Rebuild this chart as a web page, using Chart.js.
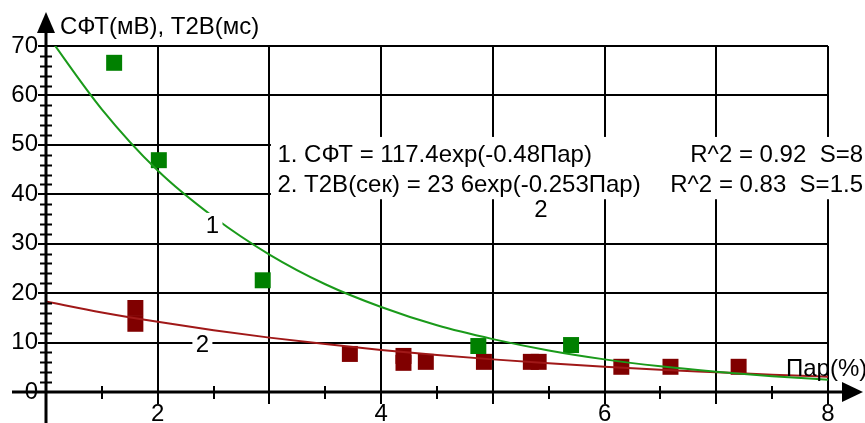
<!DOCTYPE html>
<html>
<head>
<meta charset="utf-8">
<script src="https://cdn.jsdelivr.net/npm/chart.js@4/dist/chart.umd.min.js"></script>
<style>
    html, body { margin: 0; padding: 0; background: #fff; overflow: hidden; }
</style>
</head>
<body>
<canvas id="fitChart" width="865" height="423"></canvas>
<script>
// measured points
const sftX = [1.61, 2.01, 2.94, 4.87, 5.70];
const sftY = [66.6, 46.9, 22.6, 9.3, 9.5];
const t2bX = [1.80, 1.80, 3.72, 4.20, 4.20, 4.40, 4.92, 5.34, 5.41, 6.15, 6.59, 7.20];
const t2bY = [17.0, 13.8, 7.7, 7.3, 5.9, 6.1, 6.1, 6.1, 6.1, 5.1, 5.1, 5.1];

// fitted curves
const fitX = [1, 1.5, 2, 2.5, 3, 3.5, 4, 4.5, 5, 5.5, 6, 6.5, 7, 7.5, 8];
const sftFit = [72.6, 57.2, 44.8, 35.4, 27.8, 21.8, 17.2, 13.5, 10.7, 8.4, 6.6, 5.2, 4.1, 3.2, 2.5];
const t2bFit = [18.3, 16.1, 14.2, 12.5, 11.0, 9.7, 8.5, 7.5, 6.6, 5.8, 5.1, 4.5, 4.0, 3.5, 3.1];

const xTicks = [2, 4, 6, 8];
const yTicks = [0, 10, 20, 30, 40, 50, 60, 70];

const yTitle = "СФТ(мВ), Т2В(мс)";
const xTitle = "Пар(%)";
const fitLines = [
    ["1. СФТ = 117.4exp(-0.48Пар)", "R^2 = 0.92  S=8"],
    ["2. T2B(сек) = 23 6exp(-0.253Пар)", "R^2 = 0.83  S=1.5"],
];
const curveLabels = [
    { text: "1", x: 2.49, y: 33.8 },
    { text: "2", x: 2.40, y: 9.7 },
    { text: "2", x: 5.43, y: 37.0 },
];

const FONT = '24px "Liberation Sans", Arial, sans-serif';

function toPoints(xs, ys) {
    return xs.map((x, i) => ({ x: x, y: ys[i] }));
}

const decorPlugin = {
    id: "decor",
    beforeDatasetsDraw(chart) {
        const ctx = chart.ctx;
        const xs = chart.scales.x;
        const ys = chart.scales.y;
        // white box behind the fit equations
        const left = xs.getPixelForValue(3) + 1.5;
        const top = ys.getPixelForValue(51.6);
        const bottom = ys.getPixelForValue(39.0);
        ctx.save();
        ctx.fillStyle = "#fff";
        ctx.fillRect(left, top, chart.width - left, bottom - top);
        ctx.restore();
    },
    afterDatasetsDraw(chart) {
        const ctx = chart.ctx;
        const xs = chart.scales.x;
        const ys = chart.scales.y;
        ctx.save();
        ctx.font = FONT;
        ctx.textAlign = "center";
        ctx.textBaseline = "middle";
        curveLabels.forEach((lab) => {
            const px = xs.getPixelForValue(lab.x);
            const py = ys.getPixelForValue(lab.y);
            ctx.fillStyle = "#fff";
            ctx.fillRect(px - 10, py - 12, 20, 24);
            ctx.fillStyle = "#000";
            ctx.fillText(lab.text, px, py + 1);
        });

        // equations
        const left = xs.getPixelForValue(3) + 8;
        const top = ys.getPixelForValue(51.6);
        ctx.textBaseline = "alphabetic";
        fitLines.forEach((line, i) => {
            const base = top + 25 + i * 30;
            ctx.textAlign = "left";
            ctx.fillText(line[0], left, base);
            ctx.textAlign = "right";
            ctx.fillText(line[1], chart.width - 2, base);
        });
        ctx.restore();
    },
    afterDraw(chart) {
        const ctx = chart.ctx;
        const area = chart.chartArea;
        const xs = chart.scales.x;
        const ys = chart.scales.y;
        const ox = area.left;
        const oy = area.bottom;
        ctx.save();
        ctx.strokeStyle = "#000";
        ctx.fillStyle = "#000";
        ctx.lineWidth = 3;

        // axes
        ctx.beginPath();
        ctx.moveTo(ox, chart.height);
        ctx.lineTo(ox, 26);
        ctx.moveTo(12, oy);
        ctx.lineTo(chart.width - 20, oy);
        ctx.stroke();

        // arrows
        ctx.beginPath();
        ctx.moveTo(ox, 12);
        ctx.lineTo(ox - 9, 33);
        ctx.lineTo(ox + 9, 33);
        ctx.closePath();
        ctx.fill();
        ctx.beginPath();
        ctx.moveTo(chart.width - 2, oy);
        ctx.lineTo(chart.width - 23, oy - 10);
        ctx.lineTo(chart.width - 23, oy + 10);
        ctx.closePath();
        ctx.fill();

        // tick marks across the axes
        ctx.lineWidth = 2;
        ctx.beginPath();
        for (let v = 2; v < 70; v += 2) {
            if (v % 10 === 0) continue;
            const py = Math.round(ys.getPixelForValue(v)) + 0.5;
            ctx.moveTo(ox - 6, py);
            ctx.lineTo(ox + 6, py);
        }
        for (let v = 1.5; v < 8; v += 1) {
            const px = Math.round(xs.getPixelForValue(v));
            ctx.moveTo(px, oy - 6);
            ctx.lineTo(px, oy + 7);
        }
        ctx.stroke();

        // titles
        ctx.font = FONT;
        ctx.textAlign = "left";
        ctx.textBaseline = "alphabetic";
        ctx.fillText(yTitle, ox + 14, 34);
        ctx.fillText(xTitle, area.right - 42, oy - 16);
        ctx.restore();
    },
};

function drawChart() {
    const canvas = document.getElementById("fitChart");
    const ctx = canvas.getContext("2d");

    new Chart(ctx, {
        type: "scatter",
        data: {
            datasets: [
                {
                    label: "СФТ fit",
                    type: "line",
                    data: toPoints(fitX, sftFit),
                    borderColor: "#1a9a1a",
                    borderWidth: 2,
                    pointRadius: 0,
                    cubicInterpolationMode: "monotone",
                },
                {
                    label: "T2B fit",
                    type: "line",
                    data: toPoints(fitX, t2bFit),
                    borderColor: "#a01818",
                    borderWidth: 2,
                    pointRadius: 0,
                    cubicInterpolationMode: "monotone",
                },
                {
                    label: "СФТ",
                    data: toPoints(sftX, sftY),
                    pointStyle: "rect",
                    pointRadius: 11.3,
                    borderWidth: 0,
                    backgroundColor: "#008000",
                },
                {
                    label: "T2B",
                    data: toPoints(t2bX, t2bY),
                    pointStyle: "rect",
                    pointRadius: 11.3,
                    borderWidth: 0,
                    backgroundColor: "#800000",
                },
            ],
        },
        options: {
            responsive: false,
            animation: false,
            devicePixelRatio: 1,
            layout: { padding: { top: 46, right: 37, left: 0, bottom: 0 } },
            plugins: {
                legend: { display: false },
                tooltip: { enabled: false },
            },
            scales: {
                x: {
                    type: "linear",
                    min: 1,
                    max: 8,
                    afterBuildTicks: (scale) => {
                        scale.ticks = [1, 2, 3, 4, 5, 6, 7, 8].map((v) => ({ value: v }));
                    },
                    afterFit: (scale) => { scale.height = 31; },
                    border: { display: false },
                    grid: {
                        color: "#000",
                        lineWidth: 2,
                        drawTicks: true,
                        tickLength: 12,
                    },
                    ticks: {
                        color: "#000",
                        font: { family: '"Liberation Sans", Arial, sans-serif', size: 24 },
                        padding: -4,
                        maxRotation: 0,
                        autoSkip: false,
                        callback: (v) => (xTicks.includes(v) ? String(v) : ""),
                    },
                },
                y: {
                    min: 0,
                    max: 70,
                    afterBuildTicks: (scale) => {
                        scale.ticks = yTicks.map((v) => ({ value: v }));
                    },
                    afterFit: (scale) => { scale.width = 46; },
                    border: { display: false },
                    grid: {
                        color: (c) => (c.tick && c.tick.value === 0 ? "rgba(0,0,0,0)" : "#000"),
                        lineWidth: 2,
                        drawTicks: true,
                        tickLength: 8,
                    },
                    ticks: {
                        color: "#000",
                        font: { family: '"Liberation Sans", Arial, sans-serif', size: 24 },
                        padding: 0,
                    },
                },
            },
        },
        plugins: [decorPlugin],
    });
}

document.addEventListener("DOMContentLoaded", () => {
    drawChart();
});
</script>
</body>
</html>
